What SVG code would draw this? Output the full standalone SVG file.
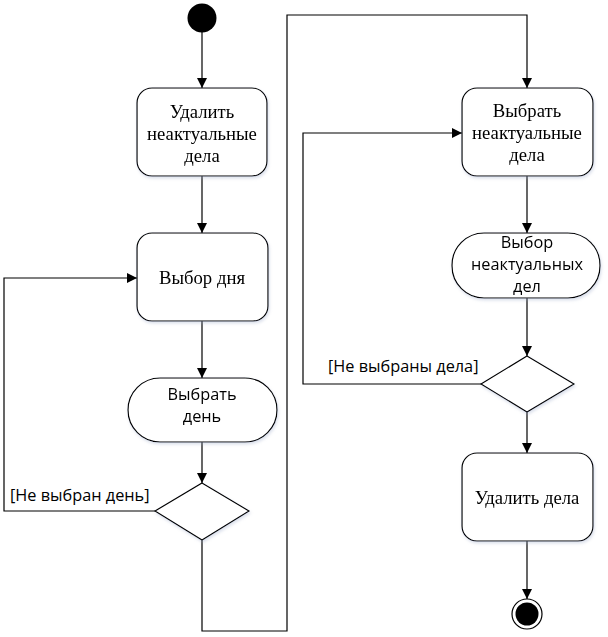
<svg xmlns="http://www.w3.org/2000/svg" width="608" height="637" viewBox="0 0 608 637">
  <style>
    .act { fill: #ffffff; stroke: #000000; stroke-width: 1.2; }
    .serif { font-family: "Liberation Serif", "Times New Roman", serif; font-size: 18.7px; fill: #000000; text-anchor: middle; }
    .sans { font-family: "Open Sans", "Liberation Sans", sans-serif; font-size: 16.3px; fill: #000000; text-anchor: middle; }
    .guard { font-family: "Open Sans", "Liberation Sans", sans-serif; font-size: 16.3px; fill: #000000; }
    .edge { fill: none; stroke: #000000; stroke-width: 1.2; }
  </style>
  <defs>
    <marker id="arrow" markerWidth="10" markerHeight="10" refX="10" refY="5" orient="auto" markerUnits="userSpaceOnUse">
      <path d="M0,0 L10,5 L0,10 Z" fill="#000000"/>
    </marker>
    <filter id="soft" x="-10%" y="-10%" width="130%" height="130%">
      <feGaussianBlur in="SourceAlpha" stdDeviation="1.5"/>
      <feOffset dx="1" dy="1.5" result="b"/>
      <feFlood flood-color="#9aa8c8" flood-opacity="0.35"/>
      <feComposite in2="b" operator="in"/>
      <feMerge><feMergeNode/><feMergeNode in="SourceGraphic"/></feMerge>
    </filter>
  </defs>
  <rect width="608" height="637" fill="#ffffff"/>

  <!-- connectors -->
  <g id="connectors">
    <path class="edge" d="M202,32 V88" marker-end="url(#arrow)"/>
    <path class="edge" d="M202,176 V233" marker-end="url(#arrow)"/>
    <path class="edge" d="M202,321 V378" marker-end="url(#arrow)"/>
    <path class="edge" d="M202,442 V483" marker-end="url(#arrow)"/>
    <path class="edge" d="M155,511 H4 V278 H137" marker-end="url(#arrow)"/>
    <path class="edge" d="M202,540 V631 H287 V15 H527 V88" marker-end="url(#arrow)"/>
    <path class="edge" d="M527,176 V233" marker-end="url(#arrow)"/>
    <path class="edge" d="M527,298 V356" marker-end="url(#arrow)"/>
    <path class="edge" d="M481,384 H303 V133 H462" marker-end="url(#arrow)"/>
    <path class="edge" d="M527,412 V453" marker-end="url(#arrow)"/>
    <path class="edge" d="M527,541 V599" marker-end="url(#arrow)"/>
    <text class="guard" x="10" y="501">[Не выбран день]</text>
    <text class="guard" x="328" y="372">[Не выбраны дела]</text>
  </g>

  <!-- initial node -->
  <g id="start">
    <circle cx="202" cy="18" r="14.5" fill="#000000"/>
  </g>

  <g id="delete-stale" filter="url(#soft)">
    <rect class="act" x="137" y="88" width="130" height="88" rx="15"/>
    <text class="serif" x="202" y="118">Удалить</text>
    <text class="serif" x="202" y="140">неактуальные</text>
    <text class="serif" x="202" y="162">дела</text>
  </g>

  <g id="choose-day" filter="url(#soft)">
    <rect class="act" x="137" y="233" width="131" height="88" rx="15"/>
    <text class="serif" x="202" y="284">Выбор дня</text>
  </g>

  <g id="pick-day" filter="url(#soft)">
    <rect class="act" x="128" y="378" width="149" height="64" rx="32"/>
    <text class="sans" x="202" y="400">Выбрать</text>
    <text class="sans" x="202" y="422">день</text>
  </g>

  <g id="decision-day" filter="url(#soft)">
    <polygon class="act" points="202,483 249,511 202,540 155,511"/>
  </g>

  <g id="select-stale" filter="url(#soft)">
    <rect class="act" x="462" y="88" width="131" height="88" rx="15"/>
    <text class="serif" x="527" y="117">Выбрать</text>
    <text class="serif" x="527" y="139">неактуальные</text>
    <text class="serif" x="527" y="161">дела</text>
  </g>

  <g id="stale-selection" filter="url(#soft)">
    <rect class="act" x="452" y="233" width="148" height="65" rx="32"/>
    <text class="sans" x="527" y="248">Выбор</text>
    <text class="sans" x="527" y="270">неактуальных</text>
    <text class="sans" x="527" y="292">дел</text>
  </g>

  <g id="decision-tasks" filter="url(#soft)">
    <polygon class="act" points="527,356 574,384 527,412 481,384"/>
  </g>

  <g id="delete-tasks" filter="url(#soft)">
    <rect class="act" x="462" y="453" width="131" height="88" rx="15"/>
    <text class="serif" x="527" y="504">Удалить дела</text>
  </g>

  <!-- final node -->
  <g id="end">
    <circle cx="527" cy="614" r="15" fill="#ffffff" stroke="#000000" stroke-width="1.2"/>
    <circle cx="527" cy="614" r="11.5" fill="#000000"/>
  </g>
</svg>
